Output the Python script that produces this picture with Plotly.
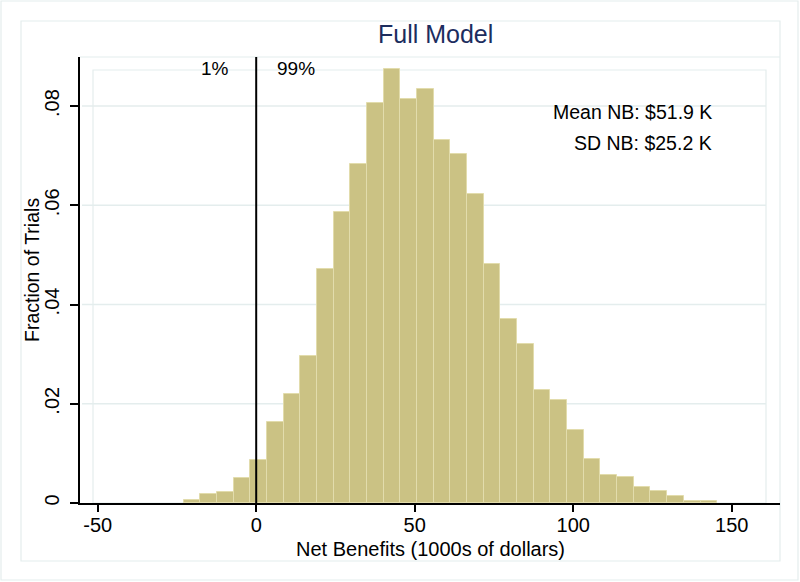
import plotly.graph_objects as go

# ---- data ----
bin_start = -22.9          # left edge of first bin (1000s of dollars)
bin_width = 5.26
fractions = [0.0007, 0.0018, 0.0022, 0.0050, 0.0087, 0.0163, 0.0220, 0.0296,
             0.0472, 0.0586, 0.0683, 0.0806, 0.0874, 0.0814, 0.0834, 0.0732,
             0.0704, 0.0622, 0.0481, 0.0370, 0.0320, 0.0228, 0.0208, 0.0147,
             0.0089, 0.0057, 0.0053, 0.0033, 0.0025, 0.0015, 0.0005, 0.0005]
x_ticks = [-50, 0, 50, 100, 150]
x_tick_labels = ["-50", "0", "50", "100", "150"]
y_ticks = [0, 0.02, 0.04, 0.06, 0.08]
y_tick_labels = ["0", ".02", ".04", ".06", ".08"]
cutoff = 0
title = "Full Model"
x_title = "Net Benefits (1000s of dollars)"
y_title = "Fraction of Trials"
pct_below = "1%"
pct_above = "99%"
stats_text = ["Mean NB: $51.9 K", "SD NB: $25.2 K"]

centers = [bin_start + bin_width * (i + 0.5) for i in range(len(fractions))]

# ---- layout geometry (pixels) ----
W, H = 800, 582
L, R, T, B = 80, 780, 57, 503  # plot area in pixels
FONT = "Liberation Sans, Arial, sans-serif"
NARROW = "Liberation Sans Narrow, Arial Narrow, sans-serif"
LIGHT = "#e4eded"


def px(x):
    return (x - L) / (R - L)


def py(y):
    return (B - y) / (B - T)


fig = go.Figure()
fig.add_trace(go.Bar(
    x=centers, y=fractions, width=bin_width,
    marker=dict(color="#cbc284", line=dict(color="#e2dcac", width=1)),
    hoverinfo="x+y", showlegend=False,
))

shapes = []
# light frames
for (x0, y0, x1, y1) in [(1, 1, 798, 580), (21, 21, 780, 561), (93, 70, 766, 503)]:
    shapes.append(dict(type="rect", xref="paper", yref="paper",
                       x0=px(x0), x1=px(x1), y0=py(y0), y1=py(y1),
                       line=dict(color=LIGHT, width=1.2), layer="below"))
shapes.append(dict(type="line", xref="paper", yref="paper",
                   x0=px(80), x1=px(780), y0=py(57), y1=py(57),
                   line=dict(color=LIGHT, width=1.2), layer="below"))
# gridlines
for v in y_ticks[1:]:
    shapes.append(dict(type="line", xref="paper", yref="y",
                       x0=px(82), x1=px(766), y0=v, y1=v,
                       line=dict(color=LIGHT, width=1.5), layer="below"))
# cutoff line
shapes.append(dict(type="line", xref="x", yref="paper",
                   x0=cutoff, x1=cutoff, y0=0, y1=1,
                   line=dict(color="black", width=2)))

annotations = [
    dict(text=title, xref="paper", yref="paper", x=px(435), y=py(34),
         showarrow=False, font=dict(size=25, color="#1c2d5e", family=FONT),
         xanchor="center", yanchor="middle"),
    dict(text=pct_below, xref="paper", yref="paper", x=px(231), y=py(69),
         showarrow=False, font=dict(size=19, color="black", family=FONT),
         xanchor="right", yanchor="middle"),
    dict(text=pct_above, xref="paper", yref="paper", x=px(275), y=py(69),
         showarrow=False, font=dict(size=19, color="black", family=FONT),
         xanchor="left", yanchor="middle"),
    dict(text=stats_text[0], xref="paper", yref="paper", x=px(714), y=py(112),
         showarrow=False, font=dict(size=19.5, color="black", family=FONT),
         xanchor="right", yanchor="middle"),
    dict(text=stats_text[1], xref="paper", yref="paper", x=px(714), y=py(143.5),
         showarrow=False, font=dict(size=19.5, color="black", family=FONT),
         xanchor="right", yanchor="middle"),
    dict(text=x_title, xref="paper", yref="paper", x=px(430), y=py(549),
         showarrow=False, font=dict(size=20, color="black", family=FONT),
         xanchor="center", yanchor="middle"),
    dict(text=y_title, xref="paper", yref="paper", x=px(32), y=py(270),
         showarrow=False, textangle=-90,
         font=dict(size=19.5, color="black", family=FONT),
         xanchor="center", yanchor="middle"),
]

fig.update_layout(
    template=None,
    width=W, height=H,
    margin=dict(l=L, r=W - R, t=T, b=H - B, pad=0, autoexpand=False),
    paper_bgcolor="white", plot_bgcolor="white",
    bargap=0,
    shapes=shapes, annotations=annotations,
    font=dict(family=FONT, color="black", size=18),
    xaxis=dict(range=[(L - 256.2) / 3.17, (R - 256.2) / 3.17],
               tickvals=x_ticks, ticktext=x_tick_labels,
               ticks="outside", ticklen=7, tickwidth=1.5,
               tickcolor="black", showline=True, linecolor="black", linewidth=2,
               showgrid=False, zeroline=False,
               tickfont=dict(size=20, family=NARROW),
               ticklabelstandoff=-4,
               automargin=False, fixedrange=True),
    yaxis=dict(range=[0, (B - T) / 4962], tickvals=y_ticks,
               ticktext=y_tick_labels, tickangle=-90,
               ticks="outside", ticklen=8, tickwidth=1.5, tickcolor="black",
               showline=True, linecolor="black", linewidth=2,
               showgrid=False, zeroline=False,
               tickfont=dict(size=20, family=NARROW),
               ticklabelstandoff=3,
               automargin=False, fixedrange=True),
)

fig.write_html("out.html",
               config={"displayModeBar": False},
               post_script="document.body.style.margin='0';"
                           "document.body.style.overflow='hidden';")
